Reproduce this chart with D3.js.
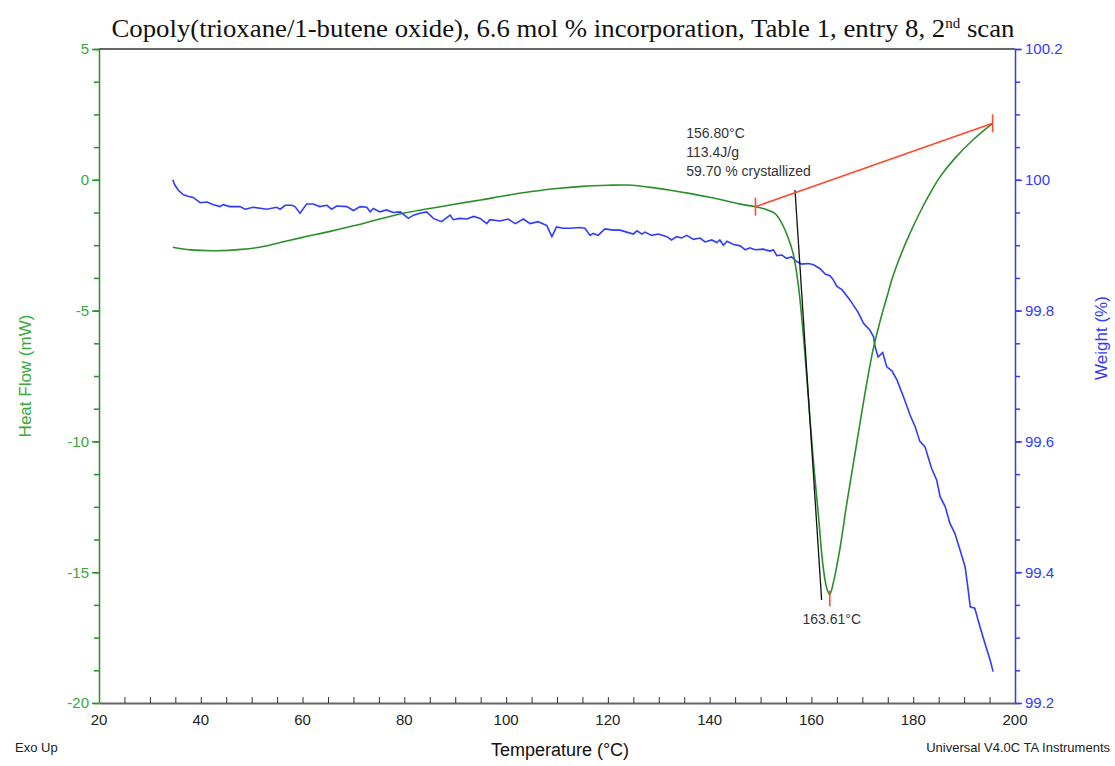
<!DOCTYPE html>
<html>
<head>
<meta charset="utf-8">
<script src="https://cdn.jsdelivr.net/npm/d3@7"></script>
<style>
  body { margin: 0; background: #fff; }
  svg text { font-family: Arial, "Liberation Sans", sans-serif; }
</style>
</head>
<body>
<svg id="chart" width="1115" height="766"></svg>
<script>
// heat flow (mW) vs temperature (°C)
let hfTemp = [34.5, 38, 43, 48, 52, 56, 60, 65, 70, 75, 80, 85, 89, 95, 100, 105, 110, 115, 120, 124,
  128, 132, 136, 140, 144, 146, 149, 151, 152.8, 154, 155.1, 156.4, 157.4, 158.3, 159.1, 160.4, 161.4,
  162.3, 163.0, 163.6, 164.3, 165.6, 167, 168.7, 170.4, 172.1, 173.5, 174.8, 176, 177.4, 179, 181.3,
  183.3, 185.3, 188, 191.7, 195.6];
let hfValue = [-2.58, -2.68, -2.71, -2.66, -2.56, -2.38, -2.2, -1.99, -1.76, -1.51, -1.27, -1.1, -0.96,
  -0.77, -0.6, -0.45, -0.33, -0.25, -0.21, -0.2, -0.28, -0.39, -0.52, -0.67, -0.84, -0.93, -1.03, -1.13,
  -1.28, -1.6, -2.05, -2.81, -4.0, -5.7, -7.6, -10.8, -12.9, -14.8, -15.6, -15.85, -15.4, -14.1, -12.3,
  -10.3, -8.3, -6.5, -5.4, -4.5, -3.7, -2.95, -2.2, -1.25, -0.52, 0.12, 0.78, 1.52, 2.16];

// weight (%) vs temperature (°C)
let wTemp = [34.5, 34.9, 35.6, 36.6, 37.5, 38.5, 39.9, 41.2, 42.5, 43.8, 44.4, 45.7, 47.7, 48.7, 50.3,
  53.0, 54.9, 55.6, 56.6, 57.9, 58.5, 59.5, 60.8, 62.1, 63.4, 64.8, 65.7, 66.7, 68.7, 70.0, 71.3, 72.6,
  73.3, 73.9, 75.2, 76.5, 77.8, 79.2, 80.8, 81.8, 83.1, 84.4, 85.7, 87.3, 89.0, 89.6, 90.9, 92.3, 93.6,
  94.9, 96.2, 96.8, 98.8, 100.4, 101.8, 103.4, 104.7, 106.3, 108.0, 109.0, 109.9, 111.2, 112.6, 114.5,
  115.5, 116.5, 117.1, 118.1, 119.4, 121.1, 122.4, 123.7, 125.0, 125.7, 126.7, 127.3, 128.6, 129.9,
  131.6, 132.5, 133.5, 134.5, 135.5, 136.8, 138.1, 139.1, 140.4, 141.4, 142.0, 142.7, 143.4, 144.7,
  146.0, 147.0, 147.9, 148.9, 150.5, 151.9, 152.5, 153.2, 154.2, 155.1, 156.1, 157.1, 158.1, 159.4,
  160.4, 161.7, 162.7, 163.7, 164.3, 165.0, 166.0, 167.6, 169.2, 170.2, 171.5, 172.2, 172.5, 173.1,
  174.0, 174.8, 175.8, 176.8, 178.1, 179.4, 180.4, 181.3, 182.3, 183.6, 184.6, 185.3, 186.3, 187.2,
  188.2, 189.2, 190.2, 190.8, 191.2, 192.1, 193.1, 194.1, 195.1, 195.7];
let wValue = [100.000, 99.992, 99.984, 99.977, 99.975, 99.973, 99.965, 99.966, 99.962, 99.959, 99.962,
  99.959, 99.959, 99.955, 99.958, 99.955, 99.958, 99.955, 99.961, 99.961, 99.959, 99.949, 99.963, 99.963,
  99.959, 99.961, 99.955, 99.960, 99.959, 99.953, 99.959, 99.958, 99.951, 99.956, 99.951, 99.954, 99.950,
  99.951, 99.941, 99.946, 99.949, 99.951, 99.941, 99.936, 99.946, 99.939, 99.941, 99.940, 99.944, 99.941,
  99.933, 99.939, 99.937, 99.940, 99.933, 99.940, 99.933, 99.936, 99.930, 99.913, 99.928, 99.926, 99.926,
  99.927, 99.926, 99.915, 99.918, 99.915, 99.925, 99.923, 99.923, 99.920, 99.917, 99.922, 99.917, 99.920,
  99.915, 99.917, 99.913, 99.908, 99.913, 99.911, 99.915, 99.909, 99.911, 99.905, 99.908, 99.904, 99.908,
  99.900, 99.906, 99.901, 99.899, 99.893, 99.896, 99.893, 99.894, 99.891, 99.893, 99.884, 99.885, 99.880,
  99.882, 99.875, 99.871, 99.872, 99.870, 99.864, 99.856, 99.853, 99.847, 99.837, 99.832, 99.816, 99.797,
  99.781, 99.770, 99.760, 99.745, 99.729, 99.736, 99.714, 99.708, 99.694, 99.668, 99.640, 99.622, 99.600,
  99.592, 99.559, 99.541, 99.515, 99.500, 99.475, 99.459, 99.434, 99.408, 99.373, 99.347, 99.345, 99.317,
  99.291, 99.266, 99.248];

// peak analysis
let baseline = [[149.0, -1.03], [195.6, 2.16]];
let tangent = [[156.77, -0.39], [162.0, -16.06]];
let peak = [163.6, -15.85];
let onsetLabels = ["156.80°C", "113.4J/g", "59.70 % crystallized"];
let peakLabel = "163.61°C";

let xTicks = d3.range(20, 201, 20);
let yLeftTicks = [-20, -15, -10, -5, 0, 5];
let yRightTicks = [99.2, 99.4, 99.6, 99.8, 100, 100.2];

let width = 1115, height = 766;
let margin = {top: 49, right: 100, bottom: 63, left: 99};
let green = "#2a8f2a", greenText = "#3aa83a", blue = "#2f3cff", red = "#ff4a2e";

let svg = d3.select("#chart");

let x = d3.scaleLinear().domain([20, 200]).range([margin.left, width - margin.right]);
let yL = d3.scaleLinear().domain([-20, 5]).range([height - margin.bottom, margin.top]);
let yR = d3.scaleLinear().domain([99.2, 100.2]).range([height - margin.bottom, margin.top]);

// top frame line
svg.append("line")
    .attr("x1", x(20)).attr("x2", x(200))
    .attr("y1", yL(5)).attr("y2", yL(5))
    .style("stroke", "#666").style("stroke-width", "2px");

// bottom axis
let gx = svg.append("g").attr("transform", `translate(0,${yL(-20)})`);
gx.call(d3.axisTop(x).tickValues(d3.range(20, 201, 5)).tickFormat("").tickSize(6).tickSizeOuter(0));
gx.call(g => g.select(".domain").style("stroke", "#666").style("stroke-width", "2px"));
gx.selectAll(".tick line").style("stroke", "#333");
xTicks.forEach(t => {
    svg.append("text")
        .attr("x", x(t)).attr("y", yL(-20) + 22)
        .attr("text-anchor", "middle")
        .style("font-size", "15px").style("fill", "#222")
        .text(t);
});

// left axis
let gl = svg.append("g").attr("transform", `translate(${x(20)},0)`);
gl.call(d3.axisLeft(yL).tickValues(d3.range(-20, 5.01, 1.25)).tickFormat("").tickSize(5).tickSizeOuter(0));
gl.selectAll("path, line").style("stroke", green).style("stroke-width", "1.5px");
let gl2 = svg.append("g").attr("transform", `translate(${x(20)},0)`);
gl2.call(d3.axisLeft(yL).tickValues(yLeftTicks).tickSize(7).tickPadding(3).tickFormat(d => String(d)));
gl2.select(".domain").remove();
gl2.selectAll("line").style("stroke", green).style("stroke-width", "1.5px");
gl2.selectAll("text").style("font-size", "15px").style("fill", greenText)
    .style("font-family", "Arial, 'Liberation Sans', sans-serif");

// right axis
let gr = svg.append("g").attr("transform", `translate(${x(200)},0)`);
gr.call(d3.axisRight(yR).tickValues(d3.range(99.2, 100.2001, 0.05)).tickFormat("").tickSize(5).tickSizeOuter(0));
gr.selectAll("path, line").style("stroke", blue).style("stroke-width", "1.5px");
let gr2 = svg.append("g").attr("transform", `translate(${x(200)},0)`);
gr2.call(d3.axisRight(yR).tickValues(yRightTicks).tickSize(7).tickPadding(3).tickFormat(d => String(d)));
gr2.select(".domain").remove();
gr2.selectAll("line").style("stroke", blue).style("stroke-width", "1.5px");
gr2.selectAll("text").style("font-size", "15px").style("fill", blue)
    .style("font-family", "Arial, 'Liberation Sans', sans-serif");

// curves
let hfLine = d3.line().x(d => x(d[0])).y(d => yL(d[1])).curve(d3.curveCatmullRom);
let wLine = d3.line().x(d => x(d[0])).y(d => yR(d[1]));

svg.append("path")
    .datum(wTemp.map((t, i) => [t, wValue[i]]))
    .attr("d", wLine)
    .style("fill", "none").style("stroke", blue).style("stroke-width", "1.6px");

svg.append("path")
    .datum(hfTemp.map((t, i) => [t, hfValue[i]]))
    .attr("d", hfLine)
    .style("fill", "none").style("stroke", green).style("stroke-width", "1.6px");

// tangent and baseline
svg.append("line")
    .attr("x1", x(tangent[0][0])).attr("y1", yL(tangent[0][1]))
    .attr("x2", x(tangent[1][0])).attr("y2", yL(tangent[1][1]))
    .style("stroke", "#111").style("stroke-width", "1.3px");

svg.append("line")
    .attr("x1", x(baseline[0][0])).attr("y1", yL(baseline[0][1]))
    .attr("x2", x(baseline[1][0])).attr("y2", yL(baseline[1][1]))
    .style("stroke", red).style("stroke-width", "1.6px");

baseline.forEach(p => {
    svg.append("line")
        .attr("x1", x(p[0])).attr("x2", x(p[0]))
        .attr("y1", yL(p[1]) - 9).attr("y2", yL(p[1]) + 9)
        .style("stroke", red).style("stroke-width", "1.6px");
});
svg.append("line")
    .attr("x1", x(peak[0])).attr("x2", x(peak[0]))
    .attr("y1", yL(peak[1]) - 4).attr("y2", yL(peak[1]) + 12)
    .style("stroke", red).style("stroke-width", "1.6px");

// annotations
onsetLabels.forEach((s, i) => {
    svg.append("text")
        .attr("x", x(135.4)).attr("y", 138 + i * 19)
        .style("font-size", "14px").style("fill", "#333")
        .text(s);
});
svg.append("text")
    .attr("x", x(peak[0]) + 2).attr("y", yL(peak[1]) + 30)
    .attr("text-anchor", "middle")
    .style("font-size", "14px").style("fill", "#333")
    .text(peakLabel);

// titles
svg.append("text")
    .attr("x", 563).attr("y", 37)
    .attr("text-anchor", "middle")
    .style("font-family", "'Liberation Serif', 'Times New Roman', serif")
    .style("font-size", "25px").style("fill", "#111")
    .attr("textLength", 903).attr("lengthAdjust", "spacingAndGlyphs")
    .html("Copoly(trioxane/1-butene oxide), 6.6 mol % incorporation, Table 1, entry 8, 2<tspan dy='-9' font-size='14px'>nd</tspan><tspan dy='9'> scan</tspan>");

svg.append("text")
    .attr("transform", `translate(31,${(yL(5) + yL(-20)) / 2}) rotate(-90)`)
    .attr("text-anchor", "middle")
    .style("font-size", "17px").style("fill", greenText)
    .text("Heat Flow (mW)");

svg.append("text")
    .attr("transform", `translate(1107,338) rotate(-90)`)
    .attr("text-anchor", "middle")
    .style("font-size", "17px").style("fill", blue)
    .text("Weight (%)");

svg.append("text")
    .attr("x", 560).attr("y", 756)
    .attr("text-anchor", "middle")
    .style("font-size", "18px").style("fill", "#111")
    .text("Temperature (°C)");

svg.append("text")
    .attr("x", 15).attr("y", 752)
    .style("font-size", "13px").style("fill", "#222")
    .text("Exo Up");

svg.append("text")
    .attr("x", 1110).attr("y", 752)
    .attr("text-anchor", "end")
    .style("font-size", "13px").style("fill", "#222")
    .text("Universal V4.0C TA Instruments");
</script>
</body>
</html>
